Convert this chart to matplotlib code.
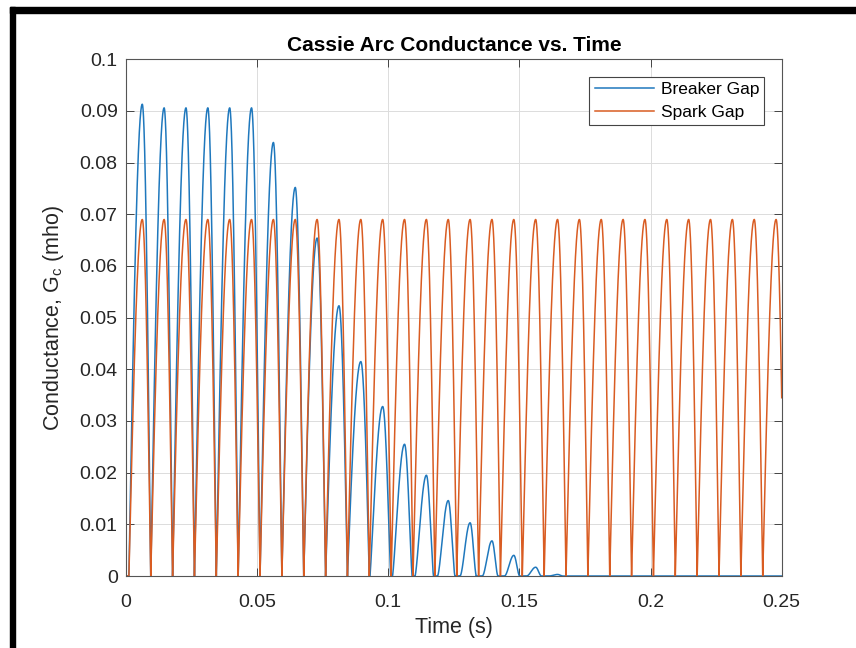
import numpy as np
import matplotlib
matplotlib.use('Agg')
import matplotlib.pyplot as plt
from matplotlib.patches import Rectangle

plt.rcParams['font.family'] = ['Liberation Sans', 'DejaVu Sans']
plt.rcParams['mathtext.fontset'] = 'custom'
plt.rcParams['mathtext.rm'] = 'Liberation Sans'
plt.rcParams['mathtext.it'] = 'Liberation Sans:italic'

# peaks of the conductance, one per half cycle of 60 Hz
first_peak = 0.0062          # s
half_period = 1 / 120        # s
breaker_peaks = [0.0913, 0.0906, 0.0906, 0.0906, 0.0906, 0.0906, 0.0839, 0.0752,
                 0.0654, 0.0523, 0.0415, 0.0328, 0.0255, 0.0195, 0.0146, 0.0103,
                 0.0068, 0.0040, 0.0017, 0.0003]
# relative width of each breaker hump (small humps get narrow with flat gaps)
breaker_width = [1, 1, 1, 1, 1, 1, 1, 1, 1, 1, 1,
                 0.95, 0.9, 0.85, 0.8, 0.75, 0.72, 0.7, 0.68, 0.65]
spark_peaks = [0.069] * 30
spark_width = [1] * 30

rise_time = 0.0051   # zero -> peak
fall_time = 0.0032   # peak -> zero

x_ticks = [0, 0.05, 0.1, 0.15, 0.2, 0.25]
x_labels = ['0', '0.05', '0.1', '0.15', '0.2', '0.25']
y_ticks = [0, 0.01, 0.02, 0.03, 0.04, 0.05, 0.06, 0.07, 0.08, 0.09, 0.1]
y_labels = ['0', '0.01', '0.02', '0.03', '0.04', '0.05', '0.06', '0.07', '0.08', '0.09', '0.1']


def waveform(t, peaks, widths):
    g = np.zeros_like(t)
    for k, (v, w) in enumerate(zip(peaks, widths)):
        tp = first_peak + k * half_period
        r, f = rise_time * w, fall_time * w
        p = 1 + (1 - w) / 0.35
        s = np.zeros_like(t)
        up = (t >= tp - r) & (t <= tp)
        dn = (t > tp) & (t <= tp + f)
        s[up] = np.sin(np.pi / 2 * (t[up] - (tp - r)) / r)
        s[dn] = np.cos(np.pi / 2 * (t[dn] - tp) / f)
        g = np.maximum(g, v * s ** p)
    return g


t = np.linspace(0, 0.25, 25001)
g_breaker = waveform(t, breaker_peaks, breaker_width)
g_spark = waveform(t, spark_peaks, spark_width)

fig = plt.figure(figsize=(8.56, 6.48), dpi=100)
ax = fig.add_axes([0.1472, 0.1111, 0.766, 0.7974])

ax.plot(t, g_breaker, color='#1f78bd', lw=1.1, label='Breaker Gap')
ax.plot(t, g_spark, color='#d95c22', lw=1.1, label='Spark Gap')

ax.set_xlim(0, 0.25)
ax.set_ylim(0, 0.1)
ax.set_xticks(x_ticks)
ax.set_xticklabels(x_labels)
ax.set_yticks(y_ticks)
ax.set_yticklabels(y_labels)
ax.tick_params(direction='in', length=6, width=0.7, color='#444444',
               top=True, right=True, labelsize=14, labelcolor='#262626')
ax.tick_params(axis='x', pad=13)
ax.tick_params(axis='y', pad=6)
ax.grid(True, color='#dcdcdc', lw=0.7)
ax.set_axisbelow(True)
for sp in ax.spines.values():
    sp.set_color('#555555')
    sp.set_linewidth(0.8)

ax.set_title('Cassie Arc Conductance vs. Time', fontsize=15, fontweight='bold',
             color='black', pad=6)
ax.set_xlabel('Time (s)', fontsize=15.5, color='#262626', labelpad=4)
ax.set_ylabel(r'Conductance, G$_\mathregular{c}$ (mho)', fontsize=15.5,
              color='#262626', labelpad=10)

leg = ax.legend(loc='upper right', fontsize=12.5, frameon=True, fancybox=False,
                framealpha=1, edgecolor='#444444', handlelength=3.4,
                handletextpad=0.4, labelspacing=0.45, borderpad=0.3,
                borderaxespad=1.0)
leg.get_frame().set_linewidth(0.8)

# black frame around the picture (top and left edges visible)
fig.patches.append(Rectangle((9.5, 0), 5.5, 641.5, transform=None,
                             color='black', zorder=10))
fig.patches.append(Rectangle((9.5, 635.5), 846.5, 5.5, transform=None,
                             color='black', zorder=10))

fig.savefig('out.png', dpi=100, facecolor='white')
